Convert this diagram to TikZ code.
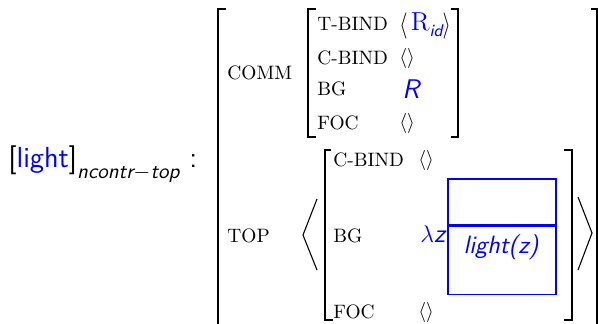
\documentclass[tikz,border=0pt]{standalone}
\usepackage{amsmath}
\usepackage{graphicx}
\begin{document}
\begin{tikzpicture}[x=0.5pt,y=-0.5pt,
  feat/.style={font=\fontsize{9.7}{11}\selectfont, inner sep=0pt, anchor=west},
  val/.style={font=\fontsize{9.7}{11}\selectfont, inner sep=0pt, anchor=west},
  brk/.style={line width=0.8pt},
  ang/.style={line width=0.55pt},
  bluebox/.style={draw=blue, line width=0.85pt, inner sep=0pt},
]
\useasboundingbox (0,0) rectangle (598,323);
% label
\node[inner sep=0pt, anchor=base west] (lab) at (8,167)
  {\fontsize{14.5}{16}\selectfont\sffamily [\textcolor{blue}{light}]\raisebox{-0.38em}{\fontsize{10.5}{12}\selectfont\itshape ncontr$-$top}\hspace{5pt}:};
% outer brackets
\draw[brk] (226,9) -- (218,9) -- (218,330);
\draw[brk] (591,9) -- (597,9) -- (597,330);
% COMM
\node[feat] (comm) at (227,73) {COMM};
\draw[brk] (316,9) -- (308,9) -- (308,137) -- (316,137);
\draw[brk] (451,9) -- (458,9) -- (458,137) -- (451,137);
\node[feat] (tb) at (317,24) {T-BIND};
\node[feat] (cb) at (317,58) {C-BIND};
\node[feat] (bgA) at (317,89) {BG};
\node[feat] (focA) at (317,123) {FOC};
\node[val] (tbv) at (399,26) {\raisebox{-1.2pt}{\scalebox{1.05}[1.3]{$\langle$}}\,\textcolor{blue}{\fontsize{13}{14}\selectfont R\raisebox{-0.25em}{\fontsize{8.5}{10}\selectfont\sffamily\itshape id}}\raisebox{-1.2pt}{\scalebox{1.05}[1.3]{$\rangle$}}};
\node[val] (cbv) at (399,58) {$\langle\rangle$};
\node[inner sep=0pt, anchor=west, text=blue] (bgAv) at (402,89) {\fontsize{13.5}{15}\selectfont\sffamily\itshape R};
\node[val] (focAv) at (399,123) {$\langle\rangle$};
% TOP
\node[feat] (top) at (227,236) {TOP};
\draw[ang] (317,199) -- (303,235) -- (317,270);
\draw[ang] (578,197) -- (592,233) -- (578,270);
\draw[brk] (331,150) -- (325,150) -- (325,320) -- (333,320);
\draw[brk] (564,150) -- (572,150) -- (572,320) -- (564,320);
\node[feat] (cbB) at (333,160) {C-BIND};
\node[feat] (bgB) at (333,236) {BG};
\node[feat] (focB) at (333,312) {FOC};
\node[val] (cbBv) at (418,160) {$\langle\rangle$};
\node[val] (focBv) at (418,312) {$\langle\rangle$};
\node[inner sep=0pt, anchor=west, text=blue] (lam) at (420,234) {\fontsize{13}{15}\selectfont$\lambda$\sffamily\itshape z};
\node[bluebox, minimum width=54pt, minimum height=23pt, anchor=north west] (boxtop) at (447,178) {};
\node[bluebox, minimum width=54pt, minimum height=34pt, anchor=north west] (boxbot) at (boxtop.south west) {};
\node[inner sep=0pt, text=blue] (lz) at (501,247) {\fontsize{12.5}{14}\selectfont\sffamily\itshape light(z)};
\end{tikzpicture}
\end{document}
